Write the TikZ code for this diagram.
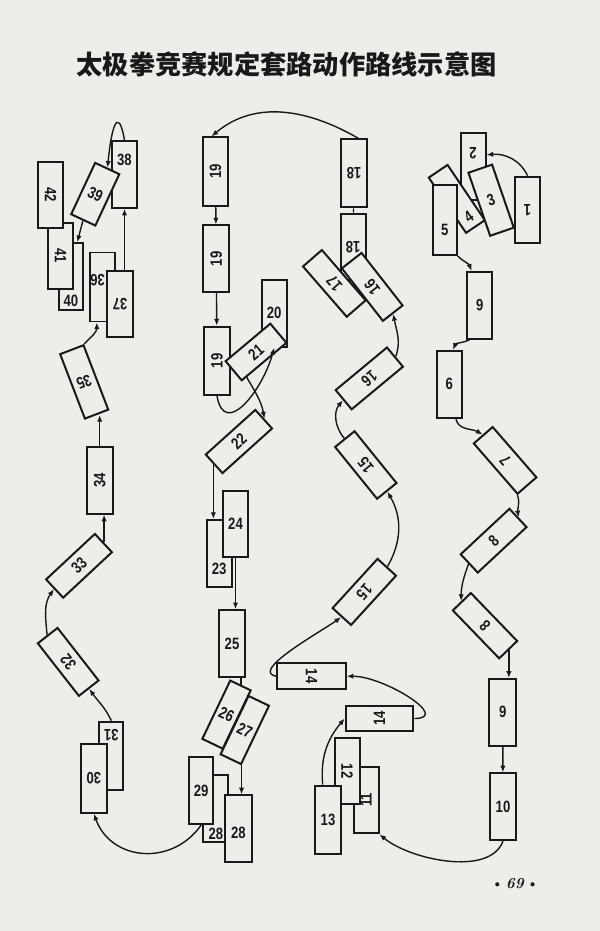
\documentclass[tikz,border=0pt]{standalone}
\usepackage{fontspec}
\usetikzlibrary{arrows.meta,calc}
\newfontfamily\numfont{Liberation Sans}[FakeStretch=0.8]
\newfontfamily\cjk{Noto Sans CJK SC}
\definecolor{paper}{RGB}{237,237,234}
\definecolor{ink}{RGB}{25,25,25}

\begin{document}
\begin{tikzpicture}[
    x=0.03cm, y=-0.03cm,
    % Reusable styles
    act/.style={
      draw=ink,
      fill=paper,
      line width=1.7pt,
      inner sep=0pt,
      text=ink,
      font=\numfont\bfseries\fontsize{14}{14}\selectfont
    },
    tall/.style={act, minimum width=0.75cm, minimum height=2cm},
    long/.style={act, minimum width=2cm, minimum height=0.75cm},
    numdown/.style={text height=#1},
    numup/.style={text depth=#1},
    route/.style={draw=ink, line width=1.2pt, -{Latex[length=2mm, width=1.6mm]}},
    link/.style={draw=ink, line width=1.2pt}
  ]
  \fill[paper] (0,0) rectangle (600,931);
  \useasboundingbox (0,0) rectangle (600,931);

  % Title and page number
  \node[text=ink, font=\cjk\bfseries\fontsize{22.4}{24}\selectfont] (title) at (286.7,64) {太极拳竞赛规定套路动作路线示意图};
  \node[text=ink, font=\fontsize{13}{13}\selectfont] (page) at (515,884) {\textbullet\,\textbf{\textit{69}}\,\textbullet};

  % Right column: 1 - 10
  \node[tall, rotate=180] (b1) at (527.5,210) {1};
  \node[tall, rotate=180, numdown=1.13cm] (b2) at (473,166.5) {2};
  \node[tall, rotate=34, minimum width=0.68cm, numdown=1.61cm] (b4) at (456.8,198.9) {4};
  \node[tall, rotate=19] (b3) at (491.1,200.2) {3};
  \node[tall, minimum width=0.72cm, minimum height=2.1cm, numdown=0.95cm] (b5) at (444.7,220) {5};
  \node[tall, rotate=180] (b6a) at (479.8,305.2) {6};
  \node[tall] (b6b) at (449.2,384.2) {6};
  \node[long, rotate=131] (b7) at (505.1,460.4) {7};
  \node[long, rotate=43] (b8a) at (493.6,540.7) {8};
  \node[long, rotate=134] (b8b) at (485,625.7) {8};
  \node[tall, minimum width=0.8cm] (b9) at (502.7,712.2) {9};
  \node[tall, minimum width=0.78cm] (b10) at (503,806.7) {10};

  % Third column: 11 - 18
  \node[long, rotate=90] (b11) at (366,800) {11\hspace{1.02cm}};
  \node[long, rotate=-90] (b12) at (347.2,771) {12};
  \node[tall, minimum width=0.78cm, minimum height=2.06cm] (b13) at (328,820) {13};
  \node[tall, rotate=90, minimum height=2.03cm] (b14a) at (379.5,718.5) {14};
  \node[tall, rotate=-90, minimum height=2.05cm, minimum width=0.77cm] (b14b) at (311.5,676.2) {14};
  \node[long, rotate=227.6] (b15a) at (364.3,591.9) {15};
  \node[long, rotate=129] (b15b) at (365.8,465) {15};
  \node[long, rotate=219.7] (b16a) at (369.3,378.4) {16};
  \node[tall, rotate=180] (b18a) at (353,247) {18};
  \node[long, rotate=131] (b17) at (334.3,283.4) {17};
  \node[long, rotate=128] (b16b) at (372.2,286.9) {16};
  \node[tall, rotate=180, minimum width=0.8cm, minimum height=2.04cm] (b18b) at (354,173.3) {18};

  % Second column: 19 - 29
  \node[long, rotate=90, minimum height=0.77cm, minimum width=2.06cm] (b19a) at (215.5,171.7) {19};
  \node[long, rotate=90, minimum height=0.77cm] (b19b) at (216.2,258.8) {19};
  \node[long, rotate=90, minimum height=0.78cm, minimum width=2.05cm] (b19c) at (217,360.8) {19};
  \node[tall] (b20) at (274.2,313.3) {20};
  \node[long, rotate=40, minimum width=1.75cm] (b21) at (256,352) {21};
  \node[long, rotate=42] (b22) at (238.9,441.5) {22};
  \node[tall, numdown=1.25cm] (b23) at (219.2,553.3) {23};
  \node[tall, minimum width=0.77cm, minimum height=1.97cm] (b24) at (235.5,523.8) {24};
  \node[tall, minimum width=0.78cm] (b25) at (232,643.5) {25};
  \node[tall, rotate=-25.6, minimum width=0.68cm, minimum height=1.94cm] (b26) at (226.5,714.6) {26};
  \node[tall, rotate=-25.6, minimum width=0.68cm, minimum height=1.94cm] (b27) at (244.8,730) {27};
  \node[tall, numdown=1.83cm] (b28b) at (215.8,808.7) {28};
  \node[tall, minimum width=0.73cm] (b29) at (201.2,790.7) {29};
  \node[tall, minimum width=0.8cm, numdown=0.59cm] (b28a) at (238.3,828.7) {28};

  % Left column: 30 - 42
  \node[tall, rotate=180, numdown=1.61cm, minimum width=0.72cm, minimum height=2.05cm] (b31) at (111.3,755.8) {31};
  \node[tall, rotate=180, minimum width=0.77cm, minimum height=2.05cm] (b30) at (93.8,778.5) {30};
  \node[long, rotate=128] (b32) at (68.2,661.9) {32};
  \node[long, rotate=43] (b33) at (79,565.8) {33};
  \node[long, rotate=90, minimum height=0.78cm] (b34) at (99.7,480.3) {34};
  \node[tall, rotate=201, minimum height=2.07cm] (b35) at (84.2,381.9) {35};
  \node[tall, rotate=180, numdown=0.77cm, minimum height=2.07cm] (b36) at (102.5,287) {\hspace{0.3cm}36};
  \node[tall, rotate=180, minimum width=0.78cm] (b37) at (120,304) {37};
  \node[tall, numup=0.9cm] (b38) at (124.5,174.5) {38};
  \node[tall, rotate=-25, minimum width=0.8cm, minimum height=1.7cm] (b39) at (95.25,194.2) {39};
  \node[tall, numdown=1.82cm, minimum width=0.72cm] (b40) at (71,276.5) {40};
  \node[long, rotate=-90] (b41) at (60.5,256) {41};
  \node[long, rotate=-90] (b42) at (50.5,195) {42};

  % Connectors
  \draw[route] (b1.south) to[out=115, in=5] ([yshift=0.35cm]b2.west);
  \draw[route] (b5.south east) to[out=-45, in=110] ([xshift=-0.25cm]b6a.south);
  \draw[route] ([xshift=0.1cm]b6a.north east) to[out=-150, in=70] ([xshift=0.12cm]b6b.north);
  \draw[route] ([xshift=0.2cm]b6b.south) to[out=-80, in=150] (b7.east);
  \draw[route] (b7.north west) to[out=-70, in=100] (b8a.east);
  \draw[route] (b8a.west) to[out=-110, in=90] (b8b.east);
  \draw[route] (b8b.west) -- (b8b.west |- b9.north);
  \draw[route] (b9) -- (b10);
  \draw[route] (b10.south) to[out=-110, in=-40, looseness=0.8] (b11.south west);
  \draw[route] ([xshift=-0.16cm]b13.north) to[out=95, in=230] (b14a.north);
  \draw[route] (b14a.south) to[out=0, in=0, looseness=1.2] (b14b.north);
  \draw[route] (b14b.south) to[out=170, in=215, looseness=0.8] (b15a.east);
  \draw[route] (b15a.west) to[out=60, in=-60] (b15b.west);
  \draw[route] (b15b.east) to[out=130, in=230] (b16a.east);
  \draw[route] (b16a.west) to[out=70, in=-80] (b16b.west);
  \draw[link] (b18a) -- (b18b);
  \draw[route] ([xshift=0.13cm]b18b.south) to[out=150, in=40] ([xshift=-0.12cm]b19a.east);
  \draw[route] (b19a) -- (b19b);
  \draw[route] (b19b) -- (b19c);
  \draw[route] (b19c.west) to[out=-80, in=-105, looseness=1.5] (b20.south);
  \draw[route] (b21.210) to[out=-60, in=100] (b22.east);
  \draw[route] (b22.west) -- (b22.west |- b23.north);
  \draw[route] (b24.south) -- (b24.south |- b25.north);
  \draw[link] (b26.north |- b25.south) -- (b26.north);
  \draw[route] (b27.south east) -- (b27.south east |- b28a.north);
  \draw[route] (b29.south) to[out=-125, in=-70, looseness=1.2] (b30.north);
  \draw[route] (b31.south) to[out=115, in=-55] (b32.west);
  \draw[route] (b32.east) to[out=95, in=235] (b33.west);
  \draw[route] (b33.east) -- (b33.east |- b34.west);
  \draw[route] (b34.east) -- (b34.east |- b35.north);
  \draw[route] (b35.south west) to[out=45, in=-90] ([xshift=-0.17cm]b36.north);
  \draw[route] (b38.south |- b37.south) -- (b38.south);
  \draw[route] (b38.north) to[out=100, in=85, looseness=3] (b39.north);
  \draw[route] (b39.south) -- ([xshift=0.19cm]b40.north);
\end{tikzpicture}
\end{document}
